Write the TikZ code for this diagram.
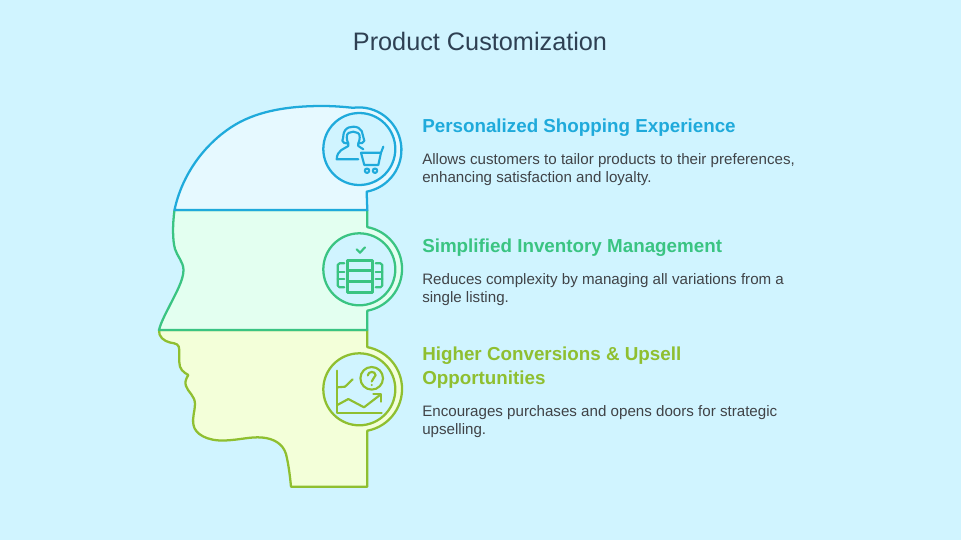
\documentclass[tikz,border=0pt]{standalone}
\usepackage{fontspec}
\setmainfont{Liberation Sans}
\definecolor{bgc}{HTML}{D0F4FF}
\definecolor{blueL}{HTML}{1FAADB}\definecolor{blueF}{HTML}{E6F9FF}
\definecolor{greenL}{HTML}{3AC482}\definecolor{greenF}{HTML}{E3FFF0}
\definecolor{limeL}{HTML}{8FBF30}\definecolor{limeF}{HTML}{F3FFD9}
\definecolor{titlec}{HTML}{2E4053}\definecolor{bodyc}{HTML}{404347}
\tikzset{
  seg/.style={line width=1.7pt,line join=round},
  icon/.style={line width=1.6pt,line join=round,line cap=round},
  ttl/.style={anchor=base,inner sep=0pt,text=titlec,font=\fontsize{18.95}{22}\selectfont},
  hd/.style={anchor=base west,inner sep=0pt,font=\fontsize{14.1}{18}\selectfont\bfseries},
  bd/.style={anchor=base west,inner sep=0pt,text=bodyc,font=\fontsize{11.35}{13}\selectfont},
}
\begin{document}
\begin{tikzpicture}[x=0.75pt,y=-0.75pt]
\useasboundingbox (0,0) rectangle (961,540);
\fill[bgc] (0,0) rectangle (961,540);
% bottom segment
\draw[seg,draw=limeL,fill=limeF] (159,330)
  .. controls (158.5,337) and (164,341) .. (170,342.5)
  .. controls (176,343.5) and (179.3,344) .. (179.3,350)
  -- (179.3,362)
  .. controls (179.3,369) and (183,372) .. (188.3,375)
  .. controls (186,379) and (184.5,382) .. (186,386)
  .. controls (188,392) and (195,396) .. (195,404)
  .. controls (195,411) and (192,417) .. (193.5,425)
  .. controls (195,434) and (207,441) .. (224,440.5)
  .. controls (240,440) and (250,436.5) .. (262,437.5)
  .. controls (274,438.5) and (283,444) .. (286,454)
  .. controls (288.5,464) and (290,476) .. (291,486.7)
  -- (367.3,486.7) -- (367.3,430.7)
  arc[start angle=-79.5,end angle=79.5,radius=42.5,y radius=-42.5] -- (367.3,330) -- cycle;
% middle segment
\draw[seg,draw=greenL,fill=greenF] (174.5,210)
  .. controls (172.5,225) and (172.5,240) .. (175,249)
  .. controls (177,256) and (183.5,262) .. (183.5,270)
  .. controls (183.5,280) and (176,293) .. (170,305)
  .. controls (166,313) and (161,322) .. (159,330)
  -- (367.3,330) -- (367.3,310.7)
  arc[start angle=-79.5,end angle=79.5,radius=42.5,y radius=-42.5] -- (367.3,210) -- cycle;
% top segment
\draw[seg,draw=blueL,fill=blueF] (174.5,210)
  .. controls (183,170) and (210,138) .. (240,122)
  .. controls (265,109) and (295,106) .. (322,106)
  .. controls (335,106) and (345,107) .. (353,107.8)
  arc[start angle=98,end angle=-79.5,radius=42.5,y radius=-42.5] -- (367.3,210) -- cycle;
% inner discs
\draw[seg,draw=blueL,fill=bgc] (359.3,149) circle[radius=36];
\draw[seg,draw=greenL,fill=bgc] (359.3,269.3) circle[radius=36];
\draw[seg,draw=limeL,fill=bgc] (359.3,389.3) circle[radius=36];
% icon: person and cart
\begin{scope}[icon,draw=blueL]
\draw (348.3,143.3) .. controls (345,143.5) and (342,142.5) .. (342.3,140.7)
  .. controls (344,137) and (342.5,134) .. (345,130.5)
  .. controls (347,127.5) and (350,126.7) .. (353.3,126.7)
  .. controls (357,126.7) and (360,128) .. (361.7,131)
  .. controls (363.5,134) and (362.5,137.5) .. (364.3,140.7)
  .. controls (364,143) and (361,143.5) .. (358.3,143.3);
\draw (348.3,143.3) .. controls (346.5,140.5) and (346,134) .. (348.5,133)
  .. controls (350.5,132.3) and (352,132) .. (353.3,131.7)
  .. controls (355,132) and (356.5,132.3) .. (358,133)
  .. controls (360.5,134) and (360,140.5) .. (358.3,143.3);
\draw (348.3,144) -- (348.3,146) .. controls (344,149) and (337,150) .. (336.7,159.3) -- (358.3,159.3);
\draw (358.3,144) -- (358.3,146) -- (363.3,149.3);
\draw (383.3,146.7) -- (381,152.7) -- (361,152.7) -- (364.3,165) -- (378.3,165) -- (381,152.7);
\draw (367,170.7) circle[radius=2.2];
\draw (375,170.7) circle[radius=2.2];
\end{scope}
% icon: table
\begin{scope}[icon,draw=greenL]
\draw (356.7,249.3) -- (360,252.7) -- (365,247.3);
\draw[line width=1.9pt] (347.7,260.7) rectangle (372.3,292.7);
\draw[line width=1.9pt] (347.7,270.7) -- (372.3,270.7) (347.7,281.7) -- (372.3,281.7);
\draw (344.3,263.3) -- (339.5,263.3) .. controls (338.2,263.3) and (337.7,264) .. (337.7,265) -- (337.7,285.6) .. controls (337.7,286.6) and (338.2,287.3) .. (339.5,287.3) -- (344.3,287.3);
\draw (337.7,271.7) -- (344.3,271.7) (337.7,279.3) -- (344.3,279.3);
\draw (375.7,263.3) -- (380.5,263.3) .. controls (381.8,263.3) and (382.3,264) .. (382.3,265) -- (382.3,285.6) .. controls (382.3,286.6) and (381.8,287.3) .. (380.5,287.3) -- (375.7,287.3);
\draw (375.7,271.7) -- (382.3,271.7) (375.7,279.3) -- (382.3,279.3);
\end{scope}
% icon: chart and question
\begin{scope}[icon,draw=limeL]
\draw (337.3,370.7) -- (337.3,412.7) -- (381.7,412.7);
\draw (337.3,387.3) -- (345,386.7) -- (352.7,379.3);
\draw (337.3,405) -- (348.3,399) -- (364,407.3) -- (380,395);
\draw (373.3,394.3) -- (380.7,394.3) -- (380.7,401.7);
\draw (371.7,378.3) circle[radius=11.3];
\draw (367.8,375.5) .. controls (368,370.8) and (375.6,370.8) .. (375.6,375.2) .. controls (375.6,378.2) and (371.7,378) .. (371.7,381.5);
\fill[limeL] (371.7,385) circle[radius=1.1];
\end{scope}
% text
\node[ttl] (title) at (480,50) {Product Customization};
\node[hd,text=blueL] (h1) at (422,132.5) {Personalized Shopping Experience};
\node[bd] (b1a) at (422,164) {Allows customers to tailor products to their preferences,};
\node[bd] (b1b) at (422,182) {enhancing satisfaction and loyalty.};
\node[hd,text=greenL] (h2) at (422,252.5) {Simplified Inventory Management};
\node[bd] (b2a) at (422,284) {Reduces complexity by managing all variations from a};
\node[bd] (b2b) at (422,302) {single listing.};
\node[hd,text=limeL] (h3a) at (422,360.5) {Higher Conversions \& Upsell};
\node[hd,text=limeL] (h3b) at (422,384.5) {Opportunities};
\node[bd] (b3a) at (422,416) {Encourages purchases and opens doors for strategic};
\node[bd] (b3b) at (422,434) {upselling.};
\end{tikzpicture}
\end{document}
